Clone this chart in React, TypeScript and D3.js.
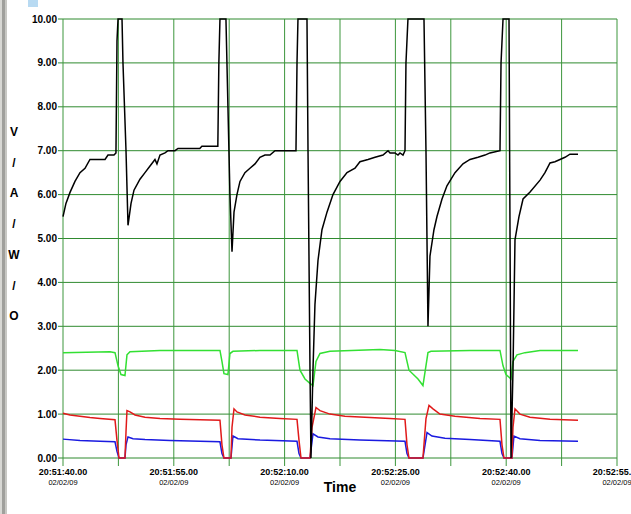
import React from 'react';
import * as d3 from 'd3';

// seconds after 20:51:40, value
const blackSeries: [number, number][] = [
  [0, 5.5], [0.4, 5.8], [0.95, 6.05], [1.62, 6.3], [2.3, 6.5], [2.98, 6.6], [3.65, 6.8], [4.33, 6.8],
  [5.69, 6.8], [6.09, 6.9], [6.9, 6.9], [7.17, 6.95], [7.31, 9.5], [7.45, 10], [7.99, 10], [8.12, 9.0],
  [8.53, 7], [8.8, 5.3], [9.21, 5.8], [9.61, 6.1], [10.42, 6.35], [11.1, 6.5], [11.78, 6.65], [12.45, 6.8],
  [12.72, 6.7], [13.13, 6.9], [13.81, 6.95], [14.21, 7.0], [15.16, 7.0], [15.57, 7.05], [18.52, 7.05],
  [18.8, 7.1], [20.96, 7.1], [21.1, 9], [21.25, 10], [22.06, 10], [22.33, 8], [22.6, 6], [22.88, 4.7],
  [23.15, 5.6], [23.55, 6.0], [23.96, 6.3], [24.63, 6.5], [25.31, 6.6], [25.99, 6.7], [26.66, 6.85],
  [27.34, 6.9], [28.02, 6.9], [28.7, 7.0], [30.32, 7.0], [31.54, 7.0], [31.68, 9], [31.81, 10],
  [33.03, 10], [33.17, 7], [33.44, 2], [33.57, 0], [33.84, 2], [34.11, 3.5], [34.52, 4.5], [35.06, 5.2],
  [35.74, 5.6], [36.55, 6.0], [37.5, 6.3], [38.45, 6.5], [39.53, 6.6], [40.2, 6.75], [41.29, 6.8],
  [42.24, 6.85], [43.32, 6.9], [44.0, 7.0], [44.27, 6.95], [44.94, 6.95], [45.35, 6.9], [45.62, 6.95],
  [46.03, 6.9], [46.3, 7.0], [46.43, 9], [46.7, 10], [48.87, 10], [49.14, 7], [49.41, 3.0], [49.68, 4.6],
  [50.22, 5.2], [50.63, 5.5], [51.31, 5.9], [51.98, 6.2], [53.07, 6.5], [54.15, 6.7], [55.1, 6.8],
  [56.18, 6.85], [57.13, 6.9], [57.8, 6.95], [59.16, 7.0], [59.3, 9], [59.57, 10], [60.38, 10],
  [60.52, 5], [60.65, 0], [60.92, 2], [61.19, 4.97], [61.73, 5.5], [62.28, 5.9], [63.23, 6.06],
  [64.58, 6.33], [65.25, 6.5], [65.93, 6.72], [66.6, 6.75], [67.28, 6.8], [67.96, 6.85], [68.63, 6.92],
  [69.72, 6.92],
];

const greenSeries: [number, number][] = [
  [0, 2.4], [6.36, 2.42], [7.04, 2.4], [7.45, 2.1], [7.85, 1.9], [8.39, 1.88], [8.66, 2.35], [9.07, 2.42],
  [13.13, 2.45], [21.25, 2.45], [21.52, 2.2], [21.79, 1.92], [22.33, 1.9], [22.6, 2.38], [23.01, 2.43],
  [26.66, 2.45], [31.68, 2.45], [32.08, 2.0], [32.76, 1.8], [33.44, 1.7], [33.84, 1.65], [34.25, 2.2],
  [34.79, 2.38], [36.14, 2.43], [42.91, 2.47], [44.94, 2.45], [46.3, 2.4], [46.84, 2.0], [48.06, 1.8],
  [48.73, 1.65], [49.41, 2.4], [49.82, 2.43], [55.1, 2.45], [59.16, 2.45], [59.57, 2.1], [59.97, 1.9],
  [60.65, 1.8], [60.92, 2.2], [61.46, 2.35], [62.54, 2.4], [64.58, 2.45], [69.72, 2.45],
];

const redSeries: [number, number][] = [
  [0, 1.02], [0.95, 0.98], [2.3, 0.95], [3.65, 0.92], [5.01, 0.9], [7.04, 0.87], [7.31, 0.4], [7.58, 0],
  [8.39, 0], [8.53, 0.6], [8.66, 1.08], [9.07, 1.05], [9.75, 0.98], [11.1, 0.93], [13.13, 0.9],
  [15.84, 0.88], [18.55, 0.87], [21.25, 0.86], [21.52, 0.3], [21.79, 0], [22.74, 0], [22.88, 0.7],
  [23.15, 1.12], [23.55, 1.05], [24.64, 0.98], [26.67, 0.93], [29.37, 0.9], [31.68, 0.88], [31.95, 0.4],
  [32.22, 0], [33.44, 0], [33.71, 0.7], [34.25, 1.15], [34.79, 1.08], [36.14, 1.0], [38.17, 0.95],
  [41.56, 0.92], [44.27, 0.9], [46.3, 0.88], [46.57, 0.3], [46.84, 0], [48.73, 0], [49.14, 0.9],
  [49.55, 1.2], [50.09, 1.12], [51.03, 1.0], [53.07, 0.95], [56.45, 0.9], [59.16, 0.88], [59.43, 0.3],
  [59.7, 0], [60.78, 0], [60.92, 0.7], [61.19, 1.12], [61.86, 1.0], [63.22, 0.93], [65.93, 0.88],
  [69.72, 0.86],
];

const blueSeries: [number, number][] = [
  [0, 0.43], [2.3, 0.4], [5.01, 0.38], [7.04, 0.37], [7.31, 0.15], [7.58, 0], [8.39, 0], [8.53, 0.3],
  [8.8, 0.48], [9.48, 0.44], [11.1, 0.42], [14.48, 0.4], [21.25, 0.37], [21.52, 0.1], [21.79, 0],
  [22.74, 0], [23.01, 0.5], [23.69, 0.44], [26.67, 0.41], [31.68, 0.38], [31.95, 0.1], [32.22, 0],
  [33.44, 0], [33.84, 0.55], [34.52, 0.48], [36.14, 0.44], [40.2, 0.41], [46.3, 0.38], [46.57, 0.1],
  [46.84, 0], [48.73, 0], [49.28, 0.58], [49.95, 0.5], [51.71, 0.45], [55.1, 0.42], [59.16, 0.38],
  [59.43, 0.1], [59.7, 0], [60.78, 0], [61.05, 0.5], [61.86, 0.44], [64.58, 0.4], [69.72, 0.38],
];

const yTicks = [0, 1, 2, 3, 4, 5, 6, 7, 8, 9, 10];
const xGrid = [0, 7.5, 15, 22.5, 30, 37.5, 45, 52.5, 60, 67.5, 75];
const xLabelTicks = [0, 15, 30, 45, 60, 75];
const xLabels = ['20:51:40.00', '20:51:55.00', '20:52:10.00', '20:52:25.00', '20:52:40.00', '20:52:55.00'];
const dateLabel = '02/02/09';
const yAxisLetters = ['V', '/', 'A', '/', 'W', '/', 'O'];

const width = 631;
const height = 514;

const App = () => {
  const x = d3.scaleLinear().domain([0, 75]).range([63, 617]);
  const y = d3.scaleLinear().domain([0, 10]).range([458, 19]);
  const line = d3.line<[number, number]>().x(d => x(d[0])).y(d => y(d[1]));

  const series = [
    { data: blueSeries, color: '#1a1ae0' },
    { data: greenSeries, color: '#33e033' },
    { data: redSeries, color: '#e01a1a' },
    { data: blackSeries, color: '#000000' },
  ];

  return (
    <svg width={width} height={height} style={{ position: 'absolute', left: 0, top: 0, background: '#fff' }}
      fontFamily="'Liberation Sans', Arial, sans-serif">
      <rect x={0} y={0} width={2} height={height} fill="#d8d8d4" />
      <rect x={2} y={0} width={3} height={height} fill="#a0a09c" />
      <rect x={5} y={0} width={2} height={height} fill="#c8c8c4" />
      <rect x={28} y={0} width={10} height={7} fill="#b8daf2" />

      {yTicks.map(t => (
        <g key={'y' + t}>
          <line x1={58} x2={x(75)} y1={y(t)} y2={y(t)} stroke="#2f8a2f" strokeWidth={1} />
          <text x={57} y={y(t) + 3.5} textAnchor="end" fontSize={10} fontWeight="bold">{t.toFixed(2)}</text>
        </g>
      ))}
      {xGrid.map(t => (
        <line key={'x' + t} x1={x(t)} x2={x(t)} y1={y(10)} y2={466} stroke="#3c963c" strokeWidth={1} />
      ))}
      {xLabelTicks.map((t, i) => (
        <g key={'l' + t}>
          <text x={x(t)} y={475} textAnchor="middle" fontSize={9} fontWeight="bold">{xLabels[i]}</text>
          <text x={x(t)} y={485} textAnchor="middle" fontSize={7.5}>{dateLabel}</text>
        </g>
      ))}

      {series.map((s, i) => (
        <path key={i} d={line(s.data) || ''} fill="none" stroke={s.color} strokeWidth={1.5} />
      ))}

      {yAxisLetters.map((c, i) => (
        <text key={'v' + i} x={14} y={136 + i * 30.7} textAnchor="middle" fontSize={12} fontWeight="bold">{c}</text>
      ))}
      <text x={340} y={492} textAnchor="middle" fontSize={14} fontWeight="bold">Time</text>
    </svg>
  );
};

export default App;
